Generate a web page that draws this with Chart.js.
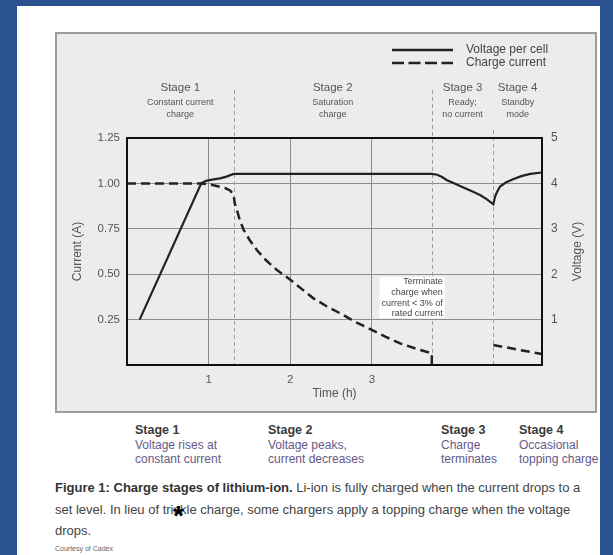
<!DOCTYPE html>
<html>
<head>
<meta charset="utf-8">
<script src="https://cdn.jsdelivr.net/npm/chart.js@4.4.1/dist/chart.umd.min.js"></script>
<style>
  body { margin:0; width:613px; height:555px; background:#fff; position:relative; overflow:hidden;
         font-family:"Liberation Sans", Arial, sans-serif; }
  .blue { position:absolute; background:#2a5290; }
  #box { position:absolute; left:55px; top:32px; width:542px; height:381px; box-sizing:border-box;
         border:2px solid #9d9d9d; background:#ececec; }
  #chart { position:absolute; left:55px; top:32px; }
  .col { position:absolute; top:423px; font-size:12px; line-height:14.5px; color:#66598a; }
  .col b { color:#3a3a3a; font-size:12.5px; }
  #caption { position:absolute; left:55px; top:477px; font-size:13px; line-height:21.5px; color:#444; white-space:nowrap; }
  #caption b { color:#333; }
  #star { position:absolute; left:173px; top:500px; font-size:28px; font-weight:bold; color:#000; }
  #credit { position:absolute; left:55px; top:545px; font-size:7px; color:#666; }
</style>
</head>
<body>
<div class="blue" style="left:0;top:0;width:17px;height:555px"></div>
<div class="blue" style="left:0;top:0;width:613px;height:6px"></div>
<div class="blue" style="left:600px;top:0;width:13px;height:555px"></div>
<div id="box"></div>
<canvas id="chart" width="542" height="381"></canvas>

<div class="col" style="left:135px"><b>Stage 1</b><br>Voltage rises at<br>constant current</div>
<div class="col" style="left:268px"><b>Stage 2</b><br>Voltage peaks,<br>current decreases</div>
<div class="col" style="left:441px"><b>Stage 3</b><br>Charge<br>terminates</div>
<div class="col" style="left:519px"><b>Stage 4</b><br>Occasional<br>topping charge</div>

<div id="caption"><b>Figure 1: Charge stages of lithium-ion.</b> Li-ion is fully charged when the current drops to a<br>set level. In lieu of trickle charge, some chargers apply a topping charge when the voltage<br>drops.</div>
<div id="star">*</div>
<div id="credit">Courtesy of Cadex</div>

<script>
// voltage per cell (V, right axis)
var voltageTime = [0.155, 0.91, 0.95, 0.98, 1.06, 1.14, 1.22, 1.306, 2.0, 3.0, 3.734, 3.80, 3.86, 3.92, 4.02, 4.12, 4.22, 4.33, 4.41, 4.488,
                   4.50, 4.51, 4.53, 4.57, 4.64, 4.73, 4.83, 4.94, 5.084];
var voltageValues = [1.0, 4.0, 4.04, 4.06, 4.09, 4.11, 4.15, 4.21, 4.21, 4.21, 4.21, 4.19, 4.14, 4.07, 3.99, 3.91, 3.83, 3.74, 3.65, 3.54,
                     3.64, 3.71, 3.80, 3.93, 4.02, 4.09, 4.16, 4.21, 4.24];

// charge current (A, left axis)
var currentTime = [0, 0.91, 1.06, 1.2, 1.266, 1.306, 1.32, 1.347, 1.38, 1.43, 1.5, 1.59, 1.7, 1.837, 2.0, 2.15, 2.285, 2.45, 2.61, 2.8,
                   3.0, 3.17, 3.346, 3.54, 3.734, 3.734, 4.1, 4.488, 5.084];
var currentValues = [1.0, 1.0, 0.99, 0.975, 0.96, 0.936, 0.89, 0.853, 0.80, 0.743, 0.69, 0.633, 0.578, 0.523, 0.47, 0.415, 0.367, 0.322, 0.285, 0.237,
                     0.193, 0.155, 0.119, 0.09, 0.064, 0, null, 0.11, 0.06];

var timeTicks = [1, 2, 3];
var currentTicks = [0.25, 0.5, 0.75, 1.0, 1.25];
var voltageTicks = [1, 2, 3, 4, 5];

var stageBounds = [1.306, 3.734, 4.488];
var stageTitles = ['Stage 1', 'Stage 2', 'Stage 3', 'Stage 4'];
var stageNotes = [['Constant current', 'charge'], ['Saturation', 'charge'], ['Ready;', 'no current'], ['Standby', 'mode']];
var terminateNote = ['Terminate', 'charge when', 'current < 3% of', 'rated current'];

var FONT = '"Liberation Sans", Arial, sans-serif';

function pairs(xs, ys) {
  return xs.map(function(x, i) { return {x: x, y: ys[i]}; });
}

var decor = {
  id: 'decor',
  beforeDatasetsDraw: function(chart) {
    var ctx = chart.ctx, a = chart.chartArea, xs = chart.scales.x;
    ctx.save();
    // stage separators
    ctx.strokeStyle = '#a0a0a0';
    ctx.lineWidth = 1;
    ctx.setLineDash([4, 3]);
    stageBounds.forEach(function(b, i) {
      var px = Math.round(xs.getPixelForValue(b)) + 0.5;
      ctx.beginPath();
      ctx.moveTo(px, i < 2 ? 58 : 98);
      ctx.lineTo(px, a.bottom);
      ctx.stroke();
    });
    ctx.setLineDash([]);
    // terminate note
    var right = xs.getPixelForValue(stageBounds[1]) + 11;
    ctx.font = '9px ' + FONT;
    var w = 0;
    terminateNote.forEach(function(t) { w = Math.max(w, ctx.measureText(t).width); });
    ctx.fillStyle = '#fff';
    ctx.fillRect(right - w - 2, 245, w + 4, 41);
    ctx.fillStyle = '#444';
    ctx.textAlign = 'right';
    ctx.textBaseline = 'middle';
    terminateNote.forEach(function(t, i) { ctx.fillText(t, right, 250 + i * 10.6); });
    ctx.restore();
  },
  afterDraw: function(chart) {
    var ctx = chart.ctx, a = chart.chartArea, xs = chart.scales.x;
    ctx.save();
    // plot frame
    ctx.strokeStyle = '#111';
    ctx.lineWidth = 2;
    ctx.strokeRect(a.left, a.top, a.right - a.left, a.bottom - a.top);
    // stage headings
    var edges = [xs.min].concat(stageBounds, [xs.max]);
    ctx.fillStyle = '#555';
    ctx.textAlign = 'center';
    ctx.textBaseline = 'middle';
    stageTitles.forEach(function(t, i) {
      var cx = xs.getPixelForValue((edges[i] + edges[i + 1]) / 2);
      ctx.font = '11.5px ' + FONT;
      ctx.fillText(t, cx, 56);
      ctx.font = '9px ' + FONT;
      ctx.fillText(stageNotes[i][0], cx, 71);
      ctx.fillText(stageNotes[i][1], cx, 83);
    });
    // right axis title
    ctx.save();
    ctx.translate(523, (a.top + a.bottom) / 2);
    ctx.rotate(-Math.PI / 2);
    ctx.font = '12px ' + FONT;
    ctx.fillText('Voltage (V)', 0, 0);
    ctx.restore();
    // legend
    ctx.textAlign = 'left';
    ctx.font = '12px ' + FONT;
    chart.data.datasets.forEach(function(ds, i) {
      var y = 18 + i * 13;
      ctx.strokeStyle = '#222';
      ctx.lineWidth = 2.5;
      ctx.setLineDash(ds.borderDash ? [12, 4.5] : []);
      ctx.beginPath();
      ctx.moveTo(337, y);
      ctx.lineTo(398, y);
      ctx.stroke();
      ctx.fillStyle = '#444';
      ctx.fillText(ds.label, 411, y);
    });
    ctx.restore();
  }
};

var tickFont = {family: FONT, size: 11.5};

new Chart(document.getElementById('chart'), {
  type: 'line',
  data: {
    datasets: [{
      label: 'Voltage per cell',
      data: pairs(voltageTime, voltageValues),
      yAxisID: 'yV',
      borderColor: '#222',
      borderWidth: 2.2,
      pointRadius: 0,
      tension: 0
    }, {
      label: 'Charge current',
      data: pairs(currentTime, currentValues),
      yAxisID: 'yA',
      borderColor: '#222',
      borderWidth: 2.5,
      borderDash: [9, 5],
      pointRadius: 0,
      spanGaps: false,
      tension: 0
    }]
  },
  options: {
    responsive: false,
    animation: false,
    layout: {padding: {top: 106, left: 0, right: 0, bottom: 0}},
    plugins: {legend: {display: false}, tooltip: {enabled: false}},
    scales: {
      x: {
        type: 'linear', min: 0, max: 5.084,
        afterBuildTicks: function(s) { s.ticks = timeTicks.map(function(v) { return {value: v}; }); },
        afterFit: function(s) { s.height = 48; },
        grid: {color: '#8c8c8c', lineWidth: 1, drawTicks: false},
        border: {display: false},
        ticks: {padding: 8, color: '#555', font: tickFont},
        title: {display: true, text: 'Time (h)', color: '#555', font: {family: FONT, size: 12}, padding: {top: 0, bottom: 12}}
      },
      yA: {
        type: 'linear', position: 'left', min: 0, max: 1.25,
        afterBuildTicks: function(s) { s.ticks = currentTicks.map(function(v) { return {value: v}; }); },
        afterFit: function(s) { s.width = 72; },
        grid: {color: '#8c8c8c', lineWidth: 1, drawTicks: false},
        border: {display: false},
        ticks: {padding: 7, color: '#555', font: tickFont, callback: function(v) { return v.toFixed(2); }},
        title: {display: true, text: 'Current (A)', color: '#555', font: {family: FONT, size: 12}, padding: {top: 15, bottom: 0}}
      },
      yV: {
        type: 'linear', position: 'right', min: 0, max: 5,
        afterBuildTicks: function(s) { s.ticks = voltageTicks.map(function(v) { return {value: v}; }); },
        afterFit: function(s) { s.width = 55; },
        grid: {display: false, drawTicks: false},
        border: {display: false},
        ticks: {padding: 9, color: '#555', font: {family: FONT, size: 12}}
      }
    }
  },
  plugins: [decor]
});
</script>
</body>
</html>
